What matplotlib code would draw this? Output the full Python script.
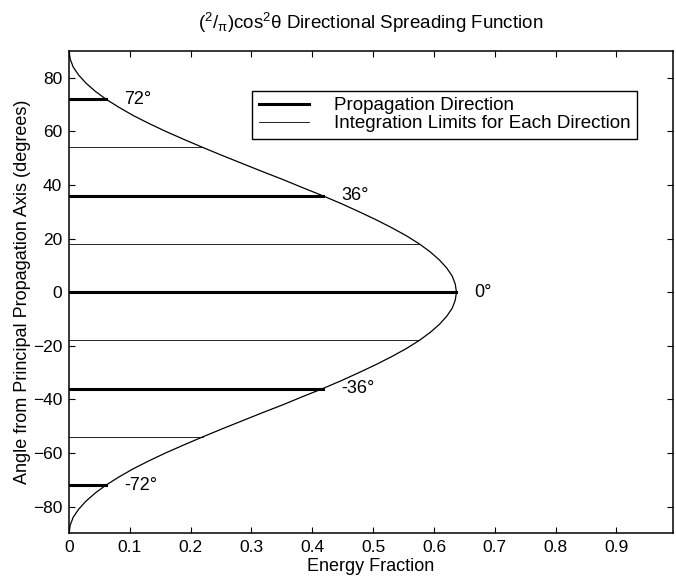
import matplotlib
matplotlib.use("Agg")
import matplotlib.pyplot as plt

# curve values (angle in degrees, energy fraction)
curve_angle = [-90, -87, -84, -81, -78, -75, -72, -69, -66, -63, -60, -57, -54, -51, -48,
               -45, -42, -39, -36, -33, -30, -27, -24, -21, -18, -15, -12, -9, -6, -3,
               0, 3, 6, 9, 12, 15, 18, 21, 24, 27, 30, 33, 36, 39, 42,
               45, 48, 51, 54, 57, 60, 63, 66, 69, 72, 75, 78, 81, 84, 87, 90]
curve_energy = [0.0, 0.002, 0.007, 0.016, 0.028, 0.043, 0.061, 0.082, 0.105, 0.131, 0.159,
                0.189, 0.220, 0.252, 0.285, 0.318, 0.352, 0.384, 0.417, 0.448, 0.477,
                0.505, 0.531, 0.555, 0.576, 0.594, 0.609, 0.621, 0.630, 0.635,
                0.637, 0.635, 0.630, 0.621, 0.609, 0.594, 0.576, 0.555, 0.531, 0.505,
                0.477, 0.448, 0.417, 0.384, 0.352, 0.318, 0.285, 0.252, 0.220, 0.189,
                0.159, 0.131, 0.105, 0.082, 0.061, 0.043, 0.028, 0.016, 0.007, 0.002, 0.0]

# propagation directions (thick lines)
prop_angle = [72, 36, 0, -36, -72]
prop_energy = [0.061, 0.417, 0.637, 0.417, 0.061]
prop_labels = ["72°", "36°", "0°", "-36°", "-72°"]

# integration limits (thin lines)
limit_angle = [54, 18, -18, -54]
limit_energy = [0.220, 0.576, 0.576, 0.220]

xticks = [0, 0.1, 0.2, 0.3, 0.4, 0.5, 0.6, 0.7, 0.8, 0.9]
xtick_labels = ["0", "0.1", "0.2", "0.3", "0.4", "0.5", "0.6", "0.7", "0.8", "0.9"]
yticks = [-80, -60, -40, -20, 0, 20, 40, 60, 80]

plt.rcParams['font.family'] = ['Liberation Sans', 'DejaVu Sans']
plt.rcParams['mathtext.fontset'] = 'custom'
plt.rcParams['mathtext.rm'] = 'Liberation Sans'
plt.rcParams['mathtext.it'] = 'Liberation Sans:italic'

fig = plt.figure(figsize=(6.76, 5.88), dpi=100)
ax = fig.add_axes([0.102, 0.093, 0.8936, 0.8203])

ax.plot(curve_energy, curve_angle, color='black', linewidth=0.9)

for i, (a, e) in enumerate(zip(prop_angle, prop_energy)):
    ax.plot([0, e], [a, a], color='black', linewidth=2.2,
            label="Propagation Direction" if i == 0 else None)
    ax.text(e + 0.03, a, prop_labels[i], fontsize=13, va='center', ha='left')

for i, (a, e) in enumerate(zip(limit_angle, limit_energy)):
    ax.plot([0, e], [a, a], color='black', linewidth=0.6,
            label="Integration Limits for Each Direction" if i == 0 else None)

ax.set_xlim(0, 0.993)
ax.set_ylim(-90, 90)
ax.set_xticks(xticks)
ax.set_xticklabels(xtick_labels)
ax.set_yticks(yticks)
ax.tick_params(direction='in', top=True, right=True, length=4, width=0.8,
               labelsize=12.5, pad=5)
for s in ax.spines.values():
    s.set_linewidth(1.1)

ax.set_xlabel("Energy Fraction", fontsize=13, labelpad=2)
ax.set_ylabel("Angle from Principal Propagation Axis (degrees)", fontsize=13, labelpad=1)
ax.set_title(r"$(^{2}/_{\mathrm{\pi}})$cos$^{2}$$\mathrm{\theta}$ Directional Spreading Function",
             fontsize=13.5, pad=16)

leg = ax.legend(loc='upper left', bbox_to_anchor=(0.303, 0.918), fontsize=13.5,
                frameon=True, fancybox=False, edgecolor='black', framealpha=1,
                handlelength=2.7, handletextpad=1.3, labelspacing=0.05,
                borderpad=0.35, borderaxespad=0)
leg.get_frame().set_linewidth(1.0)

fig.savefig("out.png", dpi=100)
